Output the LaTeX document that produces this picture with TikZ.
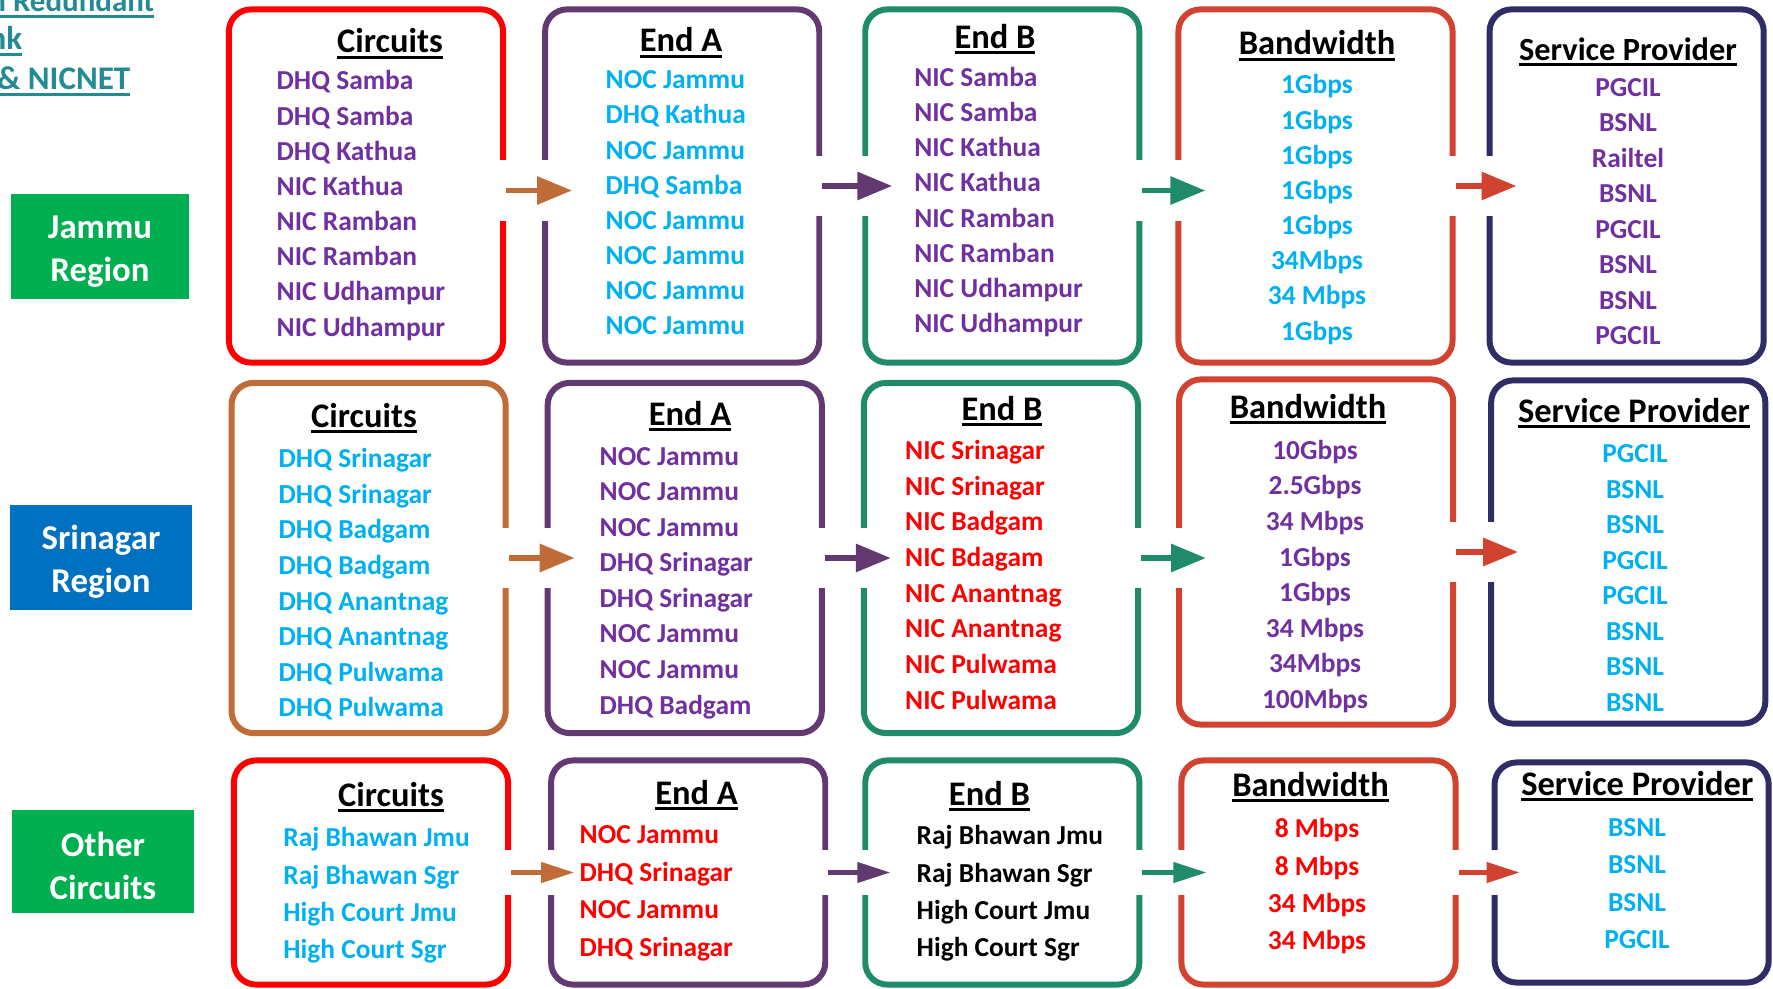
\documentclass[tikz,border=0pt]{standalone}
\usepackage{fontspec}
\setmainfont{Carlito}
\usetikzlibrary{arrows.meta,positioning}

\definecolor{cRed}{RGB}{255,0,0}
\definecolor{cPurp}{RGB}{98,57,113}
\definecolor{cTeal}{RGB}{31,139,107}
\definecolor{cBand}{RGB}{209,67,48}
\definecolor{cNavy}{RGB}{47,44,102}
\definecolor{cOrng}{RGB}{191,108,56}
\definecolor{tPurp}{RGB}{112,48,160}
\definecolor{tCyan}{RGB}{0,176,240}
\definecolor{tRed}{RGB}{255,0,0}
\definecolor{gReg}{RGB}{0,176,80}
\definecolor{bReg}{RGB}{0,112,192}
\definecolor{ttlTeal}{RGB}{36,139,146}

% thick underline for the headings
\newcommand{\hdrline}[1]{\setbox0\hbox{#1}\rlap{\rule[-1.6pt]{\wd0}{0.85pt}}\box0}
% strut that pushes the region labels a little down
\newcommand{\regstrut}{\rule{0pt}{9.4pt}}

\tikzset{
  panel/.style={draw,rounded corners=0.22cm,line width=1.7pt,minimum width=2.74cm,minimum height=3.53cm},
  hdr/.style={font=\fontsize{9.8}{12}\selectfont\bfseries,inner sep=0pt},
  lst/.style={font=\fontsize{7.8}{#1}\selectfont\bfseries,inner sep=0pt},
  lst/.default=10,
  ttl/.style={font=\fontsize{9.4}{11}\selectfont\bfseries,text=ttlTeal,inner sep=0pt},
  region/.style={fill=#1,text=white,minimum width=1.78cm,minimum height=1.02cm,align=center,
    font=\fontsize{9.9}{12}\selectfont\bfseries},
  flow/.style={line width=1.7pt,-{Triangle[length=0.35cm,width=0.27cm]}},
  flowsm/.style={line width=1.2pt,-{Triangle[length=0.33cm,width=0.2cm]}},
  gapcut/.style={white,line width=#1},
  gapcut/.default=0.6cm
}

\begin{document}
\begin{tikzpicture}[x=0.01cm,y=-0.01cm]
  \useasboundingbox (0,0) rectangle (1773,988);

  % title, cut at the left edge
  \node[ttl,anchor=base east,font=\fontsize{8.8}{11}\selectfont\bfseries] (t1) at (155,12) {\hdrline{n Redundant}};
  \node[ttl,anchor=base east] (t2) at (23,50) {\hdrline{Link}};
  \node[ttl,anchor=base east] (t3) at (131,90) {\hdrline{\& NICNET}};

  % regions
  \node[region=gReg] (jmu) at (100,246.5) {\regstrut Jammu\\Region};
  \node[region=bReg,minimum width=1.82cm] (sgr) at (101,557.5) {\regstrut Srinagar\\Region};
  \node[region=gReg,minimum width=1.81cm] (oth) at (103,861.5) {\regstrut Other\\Circuits};

  % row 1 boxes
  \node[panel,draw=cRed] (c1) at (366,186) {};
  \node[panel,draw=cPurp,right=0.36cm of c1] (a1) {};
  \node[panel,draw=cTeal,right=0.40cm of a1] (b1) {};
  \node[panel,draw=cBand,right=0.33cm of b1] (w1) {};
  \node[panel,draw=cNavy,right=0.31cm of w1] (p1) {};

  % row 2 boxes
  \node[panel,draw=cOrng,minimum height=3.5cm] (c2) at (368.6,558) {};
  \node[panel,draw=cPurp,minimum height=3.5cm,right=0.36cm of c2] (a2) {};
  \node[panel,draw=cTeal,minimum height=3.5cm,right=0.36cm of a2] (b2) {};
  \node[panel,draw=cBand,minimum height=3.45cm,right=0.35cm of b2,yshift=0.06cm] (w2) {};
  \node[panel,draw=cNavy,minimum height=3.43cm,right=0.32cm of w2] (p2) {};

  % row 3 boxes
  \node[panel,draw=cRed,minimum height=2.24cm] (c3) at (371,872.5) {};
  \node[panel,draw=cPurp,minimum height=2.24cm,right=0.37cm of c3] (a3) {};
  \node[panel,draw=cTeal,minimum height=2.24cm,right=0.34cm of a3] (b3) {};
  \node[panel,draw=cBand,minimum height=2.24cm,right=0.36cm of b3] (w3) {};
  \node[panel,draw=cNavy,minimum height=2.2cm,right=0.33cm of w3] (p3) {};

  % openings in the borders, then the arrows
  \draw[gapcut] ([xshift=-0.1cm,yshift=-0.045cm]c1.east) -- ([xshift=0.3cm,yshift=-0.045cm]a1.west);
  \draw[gapcut] ([xshift=-0.1cm]a1.east) -- ([xshift=0.3cm]b1.west);
  \draw[gapcut] ([xshift=-0.1cm,yshift=-0.045cm]b1.east) -- ([xshift=0.3cm,yshift=-0.045cm]w1.west);
  \draw[gapcut] ([xshift=-0.1cm]w1.east) -- ([xshift=0.3cm]p1.west);
  \draw[gapcut] ([xshift=-0.1cm]c2.east) -- ([xshift=0.3cm]a2.west);
  \draw[gapcut] ([xshift=-0.1cm]a2.east) -- ([xshift=0.3cm]b2.west);
  \draw[gapcut] ([xshift=-0.1cm]b2.east) -- ([xshift=0.3cm]b2.east -| w2.west);
  \draw[gapcut] ([xshift=-0.1cm]w2.east) -- ([xshift=0.3cm]p2.west);
  \draw[gapcut=0.45cm] ([xshift=-0.1cm]c3.east) -- ([xshift=0.26cm]a3.west);
  \draw[gapcut=0.45cm] ([xshift=-0.1cm]a3.east) -- ([xshift=0.28cm]b3.west);
  \draw[gapcut=0.45cm] ([xshift=-0.1cm]b3.east) -- ([xshift=0.28cm]w3.west);
  \draw[gapcut=0.45cm] ([xshift=-0.1cm]w3.east) -- ([xshift=0.28cm]p3.west);

  \draw[flow,cOrng] ([yshift=-0.045cm]c1.east) -- ([xshift=0.3cm,yshift=-0.045cm]a1.west);
  \draw[flow,cPurp] (a1.east) -- ([xshift=0.3cm]b1.west);
  \draw[flow,cTeal] ([yshift=-0.045cm]b1.east) -- ([xshift=0.3cm,yshift=-0.045cm]w1.west);
  \draw[flow,cBand] (w1.east) -- ([xshift=0.3cm]p1.west);
  \draw[flow,cOrng] (c2.east) -- ([xshift=0.3cm]a2.west);
  \draw[flow,cPurp] (a2.east) -- ([xshift=0.3cm]b2.west);
  \draw[flow,cTeal] (b2.east) -- ([xshift=0.3cm]b2.east -| w2.west);
  \draw[flow,cBand] (w2.east) -- ([xshift=0.3cm]p2.west);
  \draw[flowsm,cOrng] (c3.east) -- ([xshift=0.26cm]a3.west);
  \draw[flowsm,cPurp] (a3.east) -- ([xshift=0.28cm]b3.west);
  \draw[flowsm,cTeal] (b3.east) -- ([xshift=0.28cm]w3.west);
  \draw[flowsm,cBand] (w3.east) -- ([xshift=0.28cm]p3.west);

  % row 1 text
  \node[hdr,anchor=base] (c1hd) at (390,53) {\hdrline{Circuits}};
  \node[hdr,anchor=base] (a1hd) at (681,52) {\hdrline{End A}};
  \node[hdr,anchor=base] (b1hd) at (995,48.5) {\hdrline{End B}};
  \node[hdr,anchor=base] (w1hd) at (1317,55) {\hdrline{Bandwidth}};
  \node[hdr,anchor=base,font=\fontsize{9.2}{12}\selectfont\bfseries] (p1hd) at (1628,60.5) {\hdrline{Service Provider}};
  \node[lst,tPurp,align=left,anchor=north west] (c1txt) at (276,70)
    {DHQ Samba\\DHQ Samba\\DHQ Kathua\\NIC Kathua\\NIC Ramban\\NIC Ramban\\NIC Udhampur\\NIC Udhampur};
  \node[lst,tCyan,align=left,anchor=north west] (a1txt) at (605,70)
    {NOC Jammu\\DHQ Kathua\\NOC Jammu\\DHQ Samba\\NOC Jammu\\NOC Jammu\\NOC Jammu\\NOC Jammu};
  \node[lst,tPurp,align=left,anchor=north west] (b1txt) at (913.6,66.5)
    {NIC Samba\\NIC Samba\\NIC Kathua\\NIC Kathua\\NIC Ramban\\NIC Ramban\\NIC Udhampur\\NIC Udhampur};
  \node[lst,tCyan,align=center,anchor=north] (w1txt) at (1317,74)
    {1Gbps\\1Gbps\\1Gbps\\1Gbps\\1Gbps\\34Mbps\\34 Mbps\\1Gbps};
  \node[lst=10.1,tPurp,align=center,anchor=north] (p1txt) at (1628,77.5)
    {PGCIL\\BSNL\\Railtel\\BSNL\\PGCIL\\BSNL\\BSNL\\PGCIL};

  % row 2 text
  \node[hdr,anchor=base] (c2hd) at (364,427) {\hdrline{Circuits}};
  \node[hdr,anchor=base] (a2hd) at (690,425) {\hdrline{End A}};
  \node[hdr,anchor=base] (b2hd) at (1002,420) {\hdrline{End B}};
  \node[hdr,anchor=base] (w2hd) at (1308,418) {\hdrline{Bandwidth}};
  \node[hdr,anchor=base] (p2hd) at (1634,422.5) {\hdrline{Service Provider}};
  \node[lst=10.1,tCyan,align=left,anchor=north west] (c2txt) at (278,448)
    {DHQ Srinagar\\DHQ Srinagar\\DHQ Badgam\\DHQ Badgam\\DHQ Anantnag\\DHQ Anantnag\\DHQ Pulwama\\DHQ Pulwama};
  \node[lst=10.1,tPurp,align=left,anchor=north west] (a2txt) at (599,446.7)
    {NOC Jammu\\NOC Jammu\\NOC Jammu\\DHQ Srinagar\\DHQ Srinagar\\NOC Jammu\\NOC Jammu\\DHQ Badgam};
  \node[lst=10.15,tRed,align=left,anchor=north west] (b2txt) at (904.5,439.5)
    {NIC Srinagar\\NIC Srinagar\\NIC Badgam\\NIC Bdagam\\NIC Anantnag\\NIC Anantnag\\NIC Pulwama\\NIC Pulwama};
  \node[lst=10.1,tPurp,align=center,anchor=north] (w2txt) at (1315,439.5)
    {10Gbps\\2.5Gbps\\34 Mbps\\1Gbps\\1Gbps\\34 Mbps\\34Mbps\\100Mbps};
  \node[lst=10.1,tCyan,align=center,anchor=north] (p2txt) at (1635,444)
    {PGCIL\\BSNL\\BSNL\\PGCIL\\PGCIL\\BSNL\\BSNL\\BSNL};

  % row 3 text
  \node[hdr,anchor=base] (c3hd) at (391,806.5) {\hdrline{Circuits}};
  \node[hdr,anchor=base] (a3hd) at (696.5,804) {\hdrline{End A}};
  \node[hdr,anchor=base] (b3hd) at (989.4,805.5) {\hdrline{End B}};
  \node[hdr,anchor=base] (w3hd) at (1310.5,796.5) {\hdrline{Bandwidth}};
  \node[hdr,anchor=base] (p3hd) at (1637.3,795.5) {\hdrline{Service Provider}};
  \node[lst=10.6,tCyan,align=left,anchor=north west] (c3txt) at (282.7,827)
    {Raj Bhawan Jmu\\Raj Bhawan Sgr\\High Court Jmu\\High Court Sgr};
  \node[lst=10.7,tRed,align=left,anchor=north west] (a3txt) at (579,825)
    {NOC Jammu\\DHQ Srinagar\\NOC Jammu\\DHQ Srinagar};
  \node[lst=10.6,black,align=left,anchor=north west] (b3txt) at (916,825)
    {Raj Bhawan Jmu\\Raj Bhawan Sgr\\High Court Jmu\\High Court Sgr};
  \node[lst=10.6,tRed,align=center,anchor=north] (w3txt) at (1317,818)
    {8 Mbps\\8 Mbps\\34 Mbps\\34 Mbps};
  \node[lst=10.6,tCyan,align=center,anchor=north] (p3txt) at (1637,818)
    {BSNL\\BSNL\\BSNL\\PGCIL};
\end{tikzpicture}
\end{document}
